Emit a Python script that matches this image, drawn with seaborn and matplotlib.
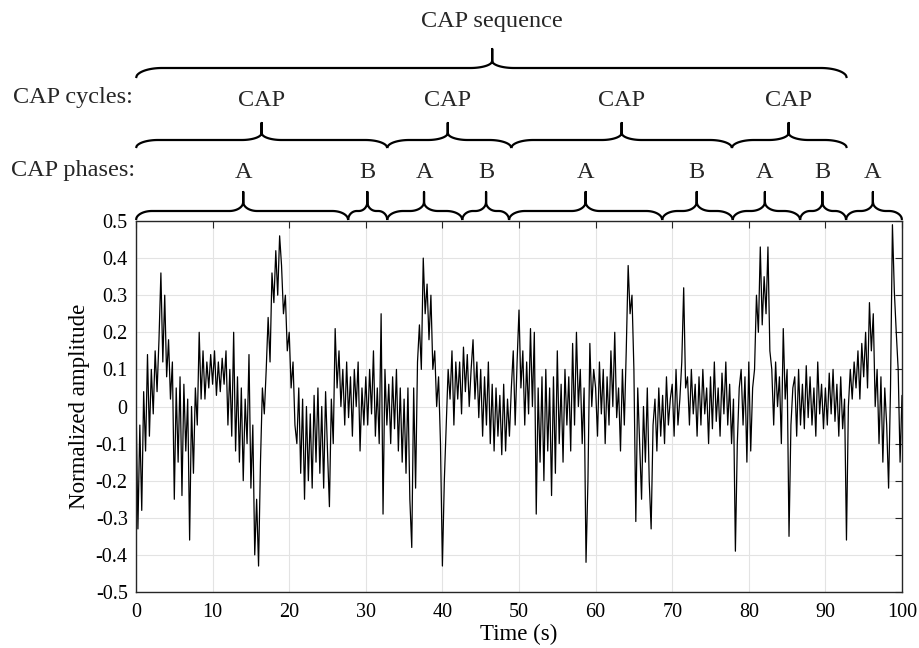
import numpy as np
import pandas as pd
import matplotlib
matplotlib.use("Agg")
import matplotlib.pyplot as plt
import matplotlib.transforms as mtransforms
import seaborn as sns

# signal, 4 samples per second (0 .. 100 s)
amplitude = [
    0.02, -0.33, -0.05, -0.28,   0.04, -0.12, 0.14, -0.08,   0.10, -0.02, 0.15, 0.04,
    0.18, 0.36, 0.12, 0.30,      0.08, 0.18, 0.02, 0.12,     -0.25, 0.05, -0.15, 0.08,
    -0.24, 0.06, -0.12, 0.02,    -0.36, 0.00, -0.18, 0.05,   -0.05, 0.20, 0.02, 0.15,
    0.02, 0.12, 0.05, 0.14,      0.06, 0.15, 0.03, 0.12,     0.04, 0.13, 0.06, 0.15,
    -0.05, 0.10, -0.08, 0.20,    -0.12, 0.08, -0.15, 0.05,   -0.20, 0.02, -0.10, 0.14,
    -0.22, -0.05, -0.40, -0.25,  -0.43, -0.15, 0.05, -0.02,  0.10, 0.24, 0.12, 0.36,
    0.28, 0.42, 0.30, 0.46,      0.38, 0.25, 0.30, 0.15,     0.20, 0.05, 0.12, -0.05,
    -0.10, 0.05, -0.18, 0.02,    -0.25, 0.00, -0.20, -0.02,  -0.22, 0.03, -0.15, 0.05,
    -0.18, 0.00, -0.22, 0.04,    -0.12, -0.27, 0.02, -0.10,  0.21, 0.05, 0.15, 0.00,
    0.10, -0.05, 0.12, -0.03,    0.08, -0.08, 0.10, 0.00,    0.12, -0.12, 0.05, -0.05,
    0.08, -0.05, 0.10, -0.02,    0.15, -0.08, 0.05, -0.10,   0.25, -0.29, 0.10, -0.05,
    0.06, -0.10, 0.08, -0.06,    0.10, -0.12, 0.05, -0.15,   0.02, -0.18, 0.05, -0.25,
    -0.38, 0.05, -0.22, 0.12,    0.22, 0.10, 0.40, 0.25,     0.33, 0.18, 0.30, 0.10,
    0.15, 0.00, 0.08, -0.10,     -0.43, -0.20, -0.05, 0.10,  0.02, 0.15, -0.05, 0.12,
    0.02, 0.12, -0.02, 0.16,     0.04, 0.14, 0.00, 0.10,     0.18, 0.02, 0.12, -0.03,
    0.10, -0.08, 0.08, -0.05,    0.12, -0.10, 0.06, -0.12,   0.05, -0.08, 0.03, -0.13,
    0.06, -0.12, 0.02, -0.08,    0.05, 0.15, -0.05, 0.12,    0.26, 0.05, 0.15, -0.05,
    0.12, -0.02, 0.21, 0.00,     0.20, -0.29, 0.05, -0.15,   0.08, -0.20, 0.10, -0.12,
    0.05, -0.24, 0.08, -0.18,    0.15, -0.10, 0.06, -0.15,   0.10, -0.05, 0.08, -0.12,
    0.17, -0.05, 0.20, 0.00,     0.10, -0.10, 0.05, -0.42,   -0.20, 0.17, 0.00, 0.10,
    0.05, -0.08, 0.12, -0.02,    0.10, -0.10, 0.08, -0.05,   0.15, 0.00, 0.20, -0.03,
    0.05, -0.12, 0.10, -0.05,    0.15, 0.38, 0.25, 0.30,     0.10, -0.31, 0.05, -0.10,
    -0.25, 0.00, -0.15, 0.05,    -0.20, -0.33, -0.05, 0.02,  -0.12, 0.05, -0.08, 0.03,
    -0.10, 0.08, -0.05, 0.02,    0.06, -0.08, 0.10, -0.05,   0.02, 0.12, 0.32, 0.05,
    0.08, -0.05, 0.10, -0.02,    0.06, -0.08, 0.08, -0.05,   0.10, -0.02, 0.05, -0.10,
    0.08, -0.06, 0.12, -0.04,    0.05, -0.08, 0.09, -0.02,   0.12, -0.05, 0.06, -0.10,
    0.02, -0.39, -0.10, 0.05,    0.10, -0.05, 0.08, -0.15,   0.12, -0.12, 0.05, 0.10,
    0.30, 0.20, 0.43, 0.22,      0.35, 0.25, 0.43, 0.15,     0.10, -0.05, 0.12, 0.00,
    0.08, -0.10, 0.21, 0.02,     0.10, -0.35, -0.05, 0.05,   0.08, -0.08, 0.10, -0.05,
    0.06, -0.06, 0.11, -0.03,    0.08, -0.05, 0.05, -0.08,   0.12, -0.02, 0.06, -0.06,
    0.05, -0.05, 0.09, -0.02,    0.10, -0.04, 0.06, -0.08,   0.08, -0.06, 0.02, -0.36,
    0.00, 0.10, 0.02, 0.12,      0.05, 0.15, 0.02, 0.17,     0.08, 0.20, 0.05, 0.28,
    0.15, 0.25, 0.00, 0.10,      -0.10, 0.08, -0.15, 0.05,   -0.05, -0.22, 0.05, 0.49,
    0.31, 0.20, 0.10, -0.15,
    0.03,
]
time = np.linspace(0, 100, len(amplitude))

# CAP annotation (seconds)
phase_edges = [0, 27.7, 32.8, 42.6, 48.7, 68.7, 77.9, 86.7, 92.7, 100]
phase_tips = [14.0, 30.2, 37.6, 45.7, 58.7, 73.2, 82.1, 89.6, 96.2]
phase_labels = ["A", "B", "A", "B", "A", "B", "A", "B", "A"]
cycle_edges = [0, 32.8, 49.0, 77.8, 92.8]
cycle_tips = [16.4, 40.7, 63.4, 85.2]
sequence_edges = [0, 92.8]
sequence_tip = 46.5

W, H = 919, 648
AX_L, AX_R, AX_T, AX_B = 136, 902, 221, 592

sns.set_theme(style="whitegrid")
plt.rcParams['font.family'] = ['Liberation Serif', 'DejaVu Serif']

fig = plt.figure(figsize=(W / 100, H / 100), dpi=100)
ax = fig.add_axes([AX_L / W, 1 - AX_B / H, (AX_R - AX_L) / W, (AX_B - AX_T) / H])

df = pd.DataFrame({"Time": time, "Amplitude": amplitude})
sns.lineplot(data=df, x="Time", y="Amplitude", color="black", linewidth=0.9, ax=ax)

ax.set_xlim(0, 100)
ax.set_ylim(-0.5, 0.5)
ax.set_xticks(np.arange(0, 101, 10))
yt = np.round(np.arange(-0.5, 0.51, 0.1), 1)
ax.set_yticks(yt)
ax.set_yticklabels(["0" if v == 0 else f"{v:g}" for v in yt])
ax.tick_params(direction="in", length=5, width=0.8, color="#262626",
               top=True, right=True, labelsize=14.5, labelcolor="black", pad=6)
ax.tick_params(axis="x", pad=8)
ax.grid(True, color="#e3e3e3", linewidth=0.8)
ax.set_facecolor("white")
for s in ax.spines.values():
    s.set_color("#262626")
    s.set_linewidth(1.0)
ax.set_xlabel("Time (s)", fontsize=16.5, color="black", labelpad=1)
ax.set_ylabel("Normalized amplitude", fontsize=16.5, color="black", labelpad=4)

px_per_unit = (AX_R - AX_L) / 100.0
trans = mtransforms.blended_transform_factory(ax.transData, fig.transFigure)


def brace(x0, x1, xm, y_end, y_body, y_stem, y_tip, r_end=16, r_tip=14):
    # build in pixels, x relative to data origin
    p0, p1, pm = x0 * px_per_unit, x1 * px_per_unit, xm * px_per_unit
    xs, ys = [], []
    u = np.linspace(0, 1, 30)
    for a, b, sign in [(p0, pm, 1), (p1, pm, -1)]:
        half = abs(b - a)
        re = min(r_end, half * 0.45)
        rt = min(r_tip, half * 0.45)
        hx = list(a + sign * re * u) + list(b - sign * rt + sign * rt * u) + [b]
        hy = list(y_end - (y_end - y_body) * np.sqrt(1 - (1 - u) ** 2)) + \
            list(y_body - (y_body - y_stem) * (1 - np.sqrt(1 - u ** 2))) + [y_tip]
        if sign == -1:
            hx, hy = hx[::-1], hy[::-1]
        xs += hx
        ys += hy
    xs = np.array(xs) / px_per_unit
    ys = 1 - np.array(ys) / H
    ax.plot(xs, ys, color="black", linewidth=1.6, transform=trans, clip_on=False,
            solid_capstyle="butt")


for i in range(len(phase_tips)):
    brace(phase_edges[i], phase_edges[i + 1], phase_tips[i], 220, 211, 202, 192)
    ax.text(phase_tips[i], 1 - 172 / H, phase_labels[i], transform=trans,
            ha="center", va="center", fontsize=17.5)
for i in range(len(cycle_tips)):
    brace(cycle_edges[i], cycle_edges[i + 1], cycle_tips[i], 148, 140, 133, 123,
          r_end=22, r_tip=20)
    ax.text(cycle_tips[i], 1 - 100 / H, "CAP", transform=trans,
            ha="center", va="center", fontsize=17.5)
brace(sequence_edges[0], sequence_edges[1], sequence_tip, 78, 68, 61, 49,
      r_end=26, r_tip=22)
ax.text(sequence_tip, 1 - 22 / H, "CAP sequence", transform=trans,
        ha="center", va="center", fontsize=17.5)

fig.text(133 / W, 1 - 98 / H, "CAP cycles:", ha="right", va="center", fontsize=17.5)
fig.text(135 / W, 1 - 170 / H, "CAP phases:", ha="right", va="center", fontsize=17.5)

fig.savefig("out.png", dpi=100)
